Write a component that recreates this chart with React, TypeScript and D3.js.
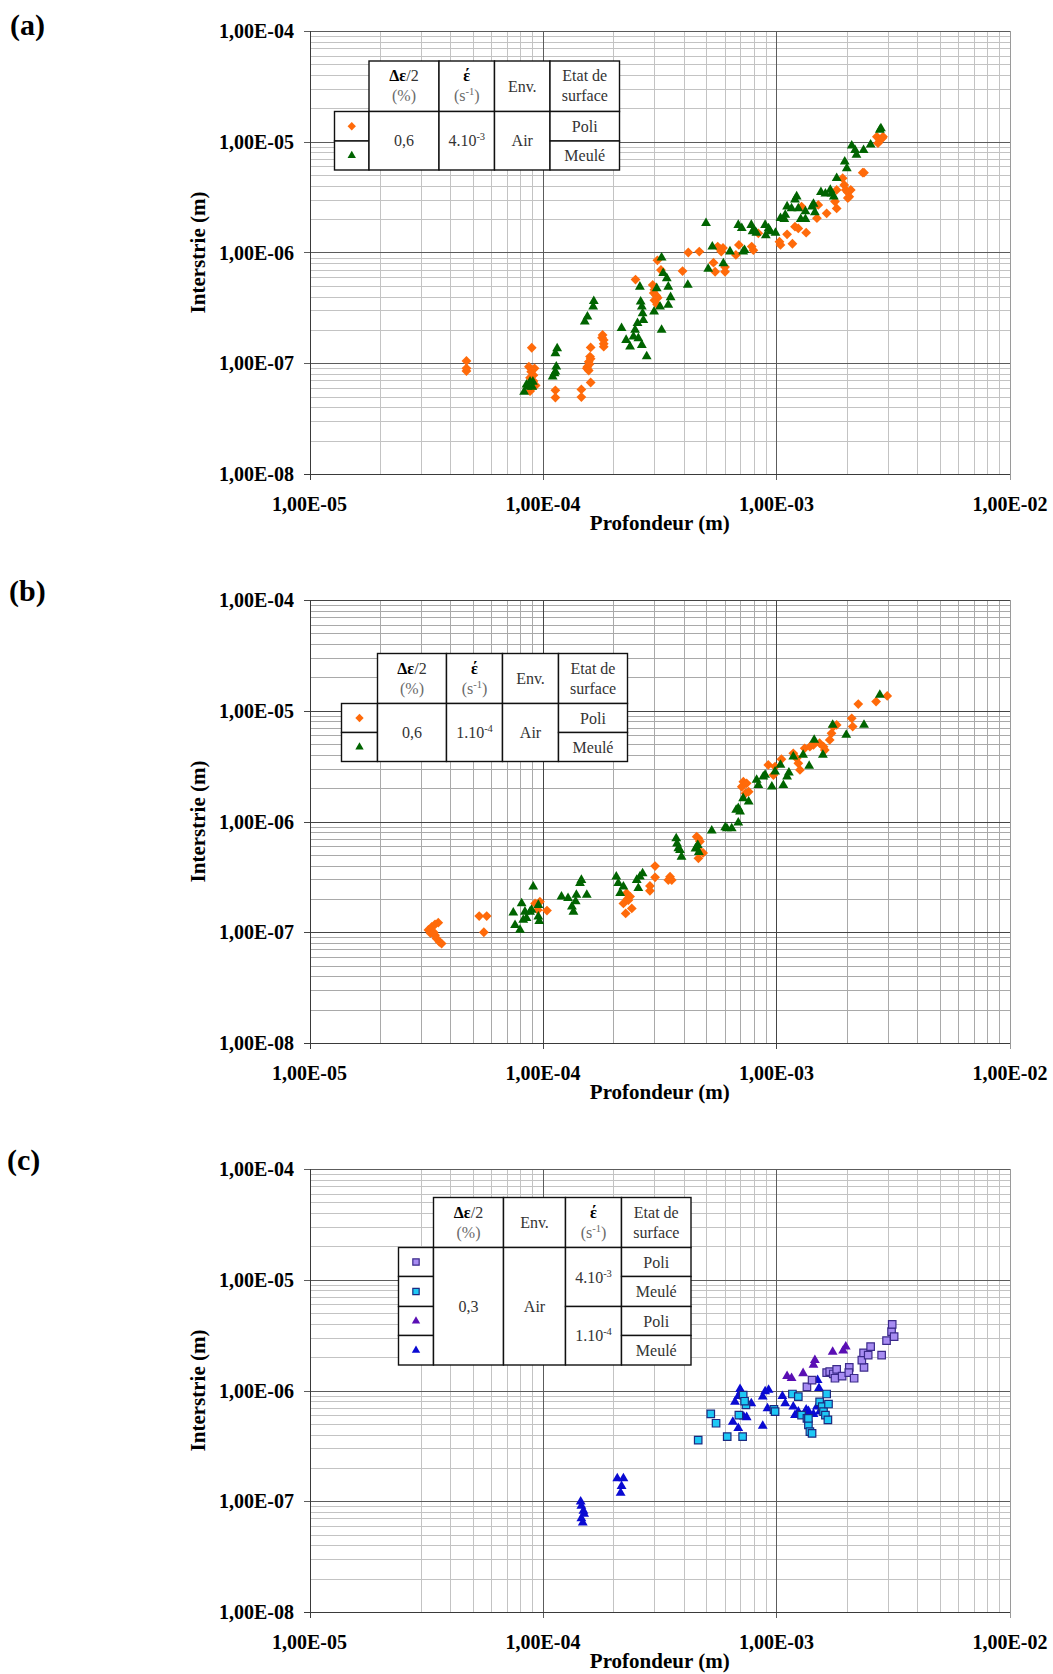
import React from 'react';
import * as d3 from 'd3';

type Pt = [number, number];

// ---------- axis ticks ----------
const xDecades = [1e-5, 1e-4, 1e-3, 1e-2];
const xTickLabels = ['1,00E-05', '1,00E-04', '1,00E-03', '1,00E-02'];
const yDecades = [1e-4, 1e-5, 1e-6, 1e-7, 1e-8];
const yTickLabels = ['1,00E-04', '1,00E-05', '1,00E-06', '1,00E-07', '1,00E-08'];
const xTitle = 'Profondeur (m)';
const yTitle = 'Interstrie (m)';
const panelLabels = ['(a)', '(b)', '(c)'];

// ---------- panel (a) ----------
const aPoli: Pt[] = [
  [4.7e-5, 1.05e-7], [4.7e-5, 9.0e-8], [4.7e-5, 8.5e-8],
  [8.95e-5, 1.38e-7],
  [8.7e-5, 9.3e-8], [8.9e-5, 8.4e-8], [9.1e-5, 7.8e-8], [8.8e-5, 7.4e-8], [9.1e-5, 6.9e-8], [9.3e-5, 6.3e-8], [8.8e-5, 5.6e-8], [9.0e-5, 6.0e-8], [9.2e-5, 9.0e-8],
  [1.13e-4, 5.7e-8], [1.13e-4, 4.9e-8],
  [1.46e-4, 5.8e-8], [1.46e-4, 4.95e-8],
  [1.6e-4, 6.7e-8],
  [1.6e-4, 1.39e-7], [1.59e-4, 1.15e-7], [1.57e-4, 1.03e-7], [1.55e-4, 9.3e-8], [1.57e-4, 8.6e-8], [1.54e-4, 9.0e-8], [1.58e-4, 9.8e-8], [1.6e-4, 1.1e-7],
  [1.8e-4, 1.8e-7], [1.82e-4, 1.62e-7], [1.82e-4, 1.41e-7], [1.79e-4, 1.7e-7], [1.82e-4, 1.5e-7],
  [2.49e-4, 5.7e-7],
  [2.95e-4, 5.1e-7], [3.0e-4, 4.6e-7], [3.05e-4, 4.1e-7], [3.0e-4, 3.7e-7], [3.08e-4, 3.4e-7], [2.98e-4, 4.3e-7], [3.1e-4, 3.9e-7],
  [3.09e-4, 8.5e-7], [3.2e-4, 6.95e-7], [3.96e-4, 6.8e-7],
  [4.19e-4, 1.0e-6], [4.67e-4, 1.02e-6],
  [5.37e-4, 8.1e-7], [5.46e-4, 6.7e-7],
  [5.6e-4, 1.13e-6], [5.75e-4, 1.07e-6], [5.9e-4, 1.1e-6], [5.8e-4, 1.02e-6],
  [6.02e-4, 7.4e-7], [6.02e-4, 6.7e-7],
  [6.7e-4, 9.5e-7], [6.9e-4, 1.17e-6],
  [7.83e-4, 1.13e-6], [7.96e-4, 1.05e-6], [8.36e-4, 1.49e-6],
  [1.03e-3, 1.25e-6], [1.04e-3, 1.17e-6],
  [1.11e-3, 1.46e-6], [1.17e-3, 1.2e-6],
  [1.2e-3, 1.71e-6], [1.24e-3, 1.65e-6], [1.28e-3, 2.6e-6], [1.34e-3, 1.51e-6],
  [1.49e-3, 2.04e-6], [1.51e-3, 2.69e-6], [1.64e-3, 2.26e-6],
  [1.78e-3, 2.88e-6], [1.81e-3, 2.5e-6], [1.81e-3, 3.67e-6],
  [1.92e-3, 4.68e-6], [1.95e-3, 4.07e-6], [1.98e-3, 3.67e-6], [2.02e-3, 3.5e-6], [2.05e-3, 3.19e-6], [2.08e-3, 3.67e-6], [2.02e-3, 3.1e-6],
  [2.34e-3, 5.26e-6], [2.37e-3, 5.26e-6],
  [2.69e-3, 1.11e-5], [2.77e-3, 1.04e-5], [2.86e-3, 1.11e-5], [2.72e-3, 9.7e-6], [2.84e-3, 1.08e-5],
];
const aMeule: Pt[] = [
  [8.3e-5, 5.5e-8], [8.6e-5, 6.1e-8], [9.05e-5, 6.8e-8], [8.8e-5, 6.8e-8], [9.0e-5, 6.1e-8], [8.5e-5, 6.4e-8],
  [1.1e-4, 7.55e-8], [1.12e-4, 8.1e-8], [1.13e-4, 8.4e-8], [1.14e-4, 9.3e-8], [1.13e-4, 1.23e-7], [1.15e-4, 1.36e-7],
  [1.51e-4, 2.37e-7], [1.55e-4, 2.63e-7], [1.64e-4, 3.24e-7], [1.65e-4, 3.64e-7],
  [2.17e-4, 2.07e-7], [2.27e-4, 1.62e-7], [2.36e-4, 1.41e-7], [2.44e-4, 1.74e-7], [2.48e-4, 2.0e-7], [2.54e-4, 2.3e-7], [2.56e-4, 1.68e-7], [2.65e-4, 1.46e-7], [2.69e-4, 2.45e-7], [2.67e-4, 2.82e-7], [2.65e-4, 3.24e-7], [2.62e-4, 3.6e-7], [2.6e-4, 4.9e-7], [2.78e-4, 1.15e-7],
  [3.22e-4, 2.0e-7], [2.99e-4, 2.92e-7], [3.07e-4, 4.75e-7], [3.17e-4, 3.24e-7], [3.44e-4, 3.36e-7], [3.44e-4, 4.9e-7], [3.39e-4, 5.85e-7], [3.27e-4, 6.5e-7], [3.22e-4, 9.0e-7], [3.52e-4, 3.94e-7],
  [4.17e-4, 5.1e-7],
  [4.99e-4, 1.84e-6], [5.1e-4, 7.1e-7], [5.31e-4, 1.13e-6], [5.92e-4, 7.98e-7], [6.32e-4, 1.02e-6],
  [6.86e-4, 1.77e-6], [7.1e-4, 1.66e-6], [7.3e-4, 1.05e-6], [7.2e-4, 1.02e-6],
  [7.8e-4, 1.77e-6], [8.0e-4, 1.6e-6], [8.2e-4, 1.5e-6], [7.9e-4, 1.55e-6],
  [8.94e-4, 1.77e-6], [9.25e-4, 1.65e-6], [9.4e-4, 1.55e-6], [9.0e-4, 1.43e-6], [9.9e-4, 1.5e-6],
  [1.04e-3, 2.04e-6], [1.09e-3, 2.18e-6], [1.11e-3, 2.6e-6], [1.08e-3, 2.0e-6],
  [1.2e-3, 3.0e-6], [1.22e-3, 3.2e-6], [1.16e-3, 2.5e-6], [1.24e-3, 2.5e-6], [1.27e-3, 2.0e-6], [1.33e-3, 2.0e-6], [1.33e-3, 2.35e-6], [1.42e-3, 2.6e-6], [1.44e-3, 2.75e-6], [1.46e-3, 2.3e-6],
  [1.55e-3, 3.5e-6], [1.62e-3, 3.4e-6], [1.7e-3, 3.67e-6], [1.72e-3, 3.4e-6], [1.76e-3, 3.2e-6],
  [1.81e-3, 4.68e-6],
  [1.96e-3, 6.6e-6], [2.0e-3, 5.75e-6],
  [2.1e-3, 9.2e-6], [2.17e-3, 8.4e-6], [2.2e-3, 7.6e-6], [2.36e-3, 8.4e-6], [2.53e-3, 9.4e-6],
  [2.77e-3, 1.28e-5], [2.8e-3, 1.32e-5],
];

// ---------- panel (b) ----------
const bPoli: Pt[] = [
  [3.23e-5, 1.05e-7], [3.34e-5, 1.12e-7], [3.45e-5, 1.18e-7], [3.56e-5, 1.22e-7], [3.3e-5, 9.8e-8], [3.45e-5, 9.4e-8], [3.5e-5, 8.8e-8], [3.6e-5, 8.2e-8], [3.68e-5, 7.9e-8], [3.4e-5, 1.0e-7],
  [5.33e-5, 1.4e-7], [5.74e-5, 1.4e-7], [5.58e-5, 1.0e-7],
  [9.25e-5, 1.82e-7], [9.7e-5, 1.89e-7], [9.5e-5, 1.59e-7], [1.04e-4, 1.57e-7],
  [2.28e-4, 2.25e-7], [2.36e-4, 2.1e-7], [2.21e-4, 1.82e-7], [2.32e-4, 1.95e-7], [2.4e-4, 1.64e-7], [2.26e-4, 1.48e-7], [2.3e-4, 2.0e-7],
  [3.02e-4, 3.96e-7], [3.02e-4, 3.13e-7], [2.87e-4, 2.62e-7], [2.87e-4, 2.37e-7],
  [3.5e-4, 3.17e-7], [3.56e-4, 2.96e-7], [3.44e-4, 2.96e-7],
  [4.63e-4, 7.05e-7], [4.55e-4, 7.3e-7], [4.7e-4, 6.6e-7], [4.85e-4, 5.2e-7], [4.6e-4, 5.7e-7], [4.63e-4, 4.65e-7],
  [7.1e-4, 2.06e-6], [7.21e-4, 2.29e-6], [7.45e-4, 2.21e-6], [7.6e-4, 1.86e-6], [7.37e-4, 1.8e-6],
  [9.22e-4, 3.24e-6], [9.86e-4, 3.13e-6], [9.7e-4, 2.63e-6], [1.05e-3, 3.65e-6],
  [1.18e-3, 4.13e-6], [1.22e-3, 3.72e-6], [1.24e-3, 3.35e-6], [1.26e-3, 2.92e-6],
  [1.32e-3, 4.58e-6], [1.39e-3, 4.74e-6], [1.44e-3, 4.91e-6], [1.53e-3, 5.1e-6], [1.59e-3, 4.74e-6], [1.61e-3, 4.42e-6], [1.69e-3, 5.45e-6], [1.72e-3, 6.25e-6], [1.75e-3, 7.18e-6], [1.81e-3, 7.45e-6],
  [2.1e-3, 8.55e-6], [2.12e-3, 7.2e-6], [2.24e-3, 1.15e-5],
  [2.67e-3, 1.21e-5], [2.98e-3, 1.36e-5],
];
const bMeule: Pt[] = [
  [9.08e-5, 2.58e-7],
  [7.46e-5, 1.5e-7], [7.59e-5, 1.16e-7], [7.97e-5, 1.05e-7], [8.1e-5, 1.82e-7], [8.37e-5, 1.53e-7], [8.23e-5, 1.29e-7], [8.5e-5, 1.34e-7], [8.8e-5, 1.53e-7], [8.93e-5, 1.59e-7], [9.55e-5, 1.38e-7], [9.64e-5, 1.26e-7], [9.55e-5, 1.76e-7],
  [1.2e-4, 2.1e-7], [1.28e-4, 2.03e-7], [1.33e-4, 1.7e-7], [1.35e-4, 1.53e-7], [1.39e-4, 2.17e-7], [1.44e-4, 2.77e-7], [1.46e-4, 2.96e-7], [1.54e-4, 2.17e-7], [1.38e-4, 1.9e-7],
  [2.06e-4, 3.17e-7], [2.1e-4, 2.77e-7], [2.14e-4, 2.25e-7], [2.21e-4, 2.58e-7],
  [2.52e-4, 2.96e-7], [2.56e-4, 2.5e-7], [2.6e-4, 3.17e-7], [2.67e-4, 3.4e-7],
  [3.72e-4, 7.05e-7], [3.8e-4, 5.73e-7], [3.92e-4, 4.8e-7], [3.86e-4, 5.5e-7], [3.75e-4, 6.3e-7],
  [4.5e-4, 5.7e-7], [4.6e-4, 6.1e-7], [4.65e-4, 5.3e-7],
  [5.28e-4, 8.26e-7],
  [6.03e-4, 8.85e-7], [6.13e-4, 8.65e-7], [6.43e-4, 8.65e-7], [6.86e-4, 9.75e-7],
  [6.72e-4, 1.27e-6], [6.86e-4, 1.32e-6], [6.98e-4, 1.23e-6],
  [7.2e-4, 1.62e-6], [7.6e-4, 1.51e-6],
  [8.22e-4, 2.37e-6], [8.36e-4, 2.13e-6], [8.78e-4, 2.54e-6], [8.94e-4, 2.63e-6],
  [9.55e-4, 2.06e-6], [9.86e-4, 2.82e-6], [1.04e-3, 3.24e-6],
  [1.07e-3, 2.13e-6], [1.11e-3, 2.54e-6], [1.13e-3, 2.76e-6],
  [1.18e-3, 3.85e-6], [1.3e-3, 4.0e-6], [1.38e-3, 3.17e-6],
  [1.45e-3, 5.45e-6], [1.58e-3, 4.0e-6],
  [1.74e-3, 7.45e-6],
  [1.99e-3, 6.04e-6], [2.37e-3, 7.45e-6],
  [2.77e-3, 1.39e-5],
];

// ---------- panel (c) ----------
const cPoliFast: Pt[] = [
  [1.35e-3, 1.08e-6], [1.42e-3, 1.24e-6],
  [1.64e-3, 1.45e-6], [1.69e-3, 1.48e-6], [1.75e-3, 1.41e-6], [1.78e-3, 1.29e-6], [1.81e-3, 1.55e-6], [1.91e-3, 1.35e-6], [2.05e-3, 1.62e-6], [2.04e-3, 1.45e-6], [2.15e-3, 1.29e-6],
  [2.37e-3, 1.62e-6], [2.32e-3, 1.88e-6], [2.36e-3, 2.19e-6], [2.47e-3, 2.09e-6], [2.53e-3, 2.49e-6], [2.82e-3, 2.09e-6], [2.96e-3, 2.82e-6], [3.11e-3, 3.4e-6], [3.13e-3, 3.96e-6], [3.19e-3, 3.06e-6],
];
const cMeuleFast: Pt[] = [
  [4.62e-4, 3.57e-7], [5.23e-4, 6.14e-7], [5.51e-4, 5.06e-7], [6.15e-4, 3.83e-7], [7.16e-4, 3.83e-7], [6.9e-4, 6.0e-7], [7.2e-4, 9.1e-7], [7.4e-4, 7.4e-7], [7.3e-4, 8.0e-7],
  [9.75e-4, 6.76e-7], [9.86e-4, 6.44e-7],
  [1.17e-3, 9.3e-7],
  [1.24e-3, 8.8e-7], [1.28e-3, 6.0e-7], [1.35e-3, 5.6e-7], [1.37e-3, 4.9e-7], [1.39e-3, 4.25e-7], [1.42e-3, 4.1e-7], [1.37e-3, 5.6e-7],
  [1.53e-3, 7.9e-7], [1.57e-3, 7.14e-7], [1.59e-3, 6.44e-7], [1.62e-3, 6.0e-7], [1.64e-3, 9.3e-7], [1.67e-3, 7.55e-7], [1.66e-3, 5.42e-7],
];
const cPoliSlow: Pt[] = [
  [1.11e-3, 1.35e-6], [1.16e-3, 1.29e-6], [1.3e-3, 1.43e-6], [1.44e-3, 1.7e-6], [1.46e-3, 1.88e-6], [1.74e-3, 2.23e-6], [1.93e-3, 2.29e-6], [1.98e-3, 2.49e-6],
];
const cMeuleSlow: Pt[] = [
  [1.45e-4, 9.9e-8], [1.46e-4, 9.06e-8], [1.49e-4, 8.2e-8], [1.5e-4, 7.7e-8], [1.46e-4, 7.0e-8], [1.48e-4, 6.4e-8],
  [2.08e-4, 1.61e-7], [2.21e-4, 1.61e-7], [2.17e-4, 1.37e-7], [2.15e-4, 1.19e-7],
  [6.98e-4, 1.03e-6], [6.64e-4, 7.9e-7], [6.5e-4, 5.2e-7], [6.86e-4, 4.56e-7], [7.45e-4, 5.73e-7], [7.8e-4, 7.66e-7], [7.05e-4, 9.8e-7], [6.86e-4, 8.9e-7], [7.24e-4, 5.8e-7],
  [8.73e-4, 8.8e-7], [8.94e-4, 9.8e-7], [9.25e-4, 1.01e-6], [9.15e-4, 6.9e-7], [8.73e-4, 4.78e-7], [9.8e-4, 6.5e-7],
  [1.06e-3, 8.9e-7], [1.09e-3, 7.66e-7], [1.18e-3, 7.14e-7], [1.2e-3, 6.0e-7], [1.24e-3, 6.44e-7], [1.34e-3, 6.7e-7], [1.37e-3, 6.5e-7], [1.44e-3, 6.1e-7], [1.49e-3, 7.14e-7], [1.5e-3, 1.24e-6], [1.52e-3, 1.05e-6], [1.53e-3, 6.44e-7],
];

// ---------- styles ----------
type Kind = 'diamond' | 'triGreen' | 'sqLav' | 'sqCyan' | 'triPurple' | 'triBlue';
const SERIF = "'Liberation Serif', 'DejaVu Serif', serif";

const W = 1053, H = 1674;
const X0 = 309.5, X1 = 1010;
const PH = 443;

function symbolPath(kind: Kind, small = false): string {
  const k = small ? 0.85 : 1;
  if (kind === 'diamond') return d3.symbol(d3.symbolSquare, 48 * k * k)()!;
  if (kind === 'sqLav' || kind === 'sqCyan') return d3.symbol(d3.symbolSquare, 56 * k * k)()!;
  return d3.symbol(d3.symbolTriangle, 42 * k * k)()!;
}
function symStyle(kind: Kind) {
  switch (kind) {
    case 'diamond': return { fill: '#ff6a0a', stroke: 'none', rot: 45 };
    case 'triGreen': return { fill: '#006400', stroke: 'none', rot: 0 };
    case 'sqLav': return { fill: '#a78cf2', stroke: '#3b2a8a', rot: 0 };
    case 'sqCyan': return { fill: '#1ec8f5', stroke: '#1a2a80', rot: 0 };
    case 'triPurple': return { fill: '#5a0fb4', stroke: 'none', rot: 0 };
    case 'triBlue': return { fill: '#0a0ad2', stroke: 'none', rot: 0 };
  }
}
function Sym({ kind, x, y, small }: { kind: Kind; x: number; y: number; small?: boolean }) {
  const s = symStyle(kind);
  return (
    <path
      d={symbolPath(kind, small)}
      transform={`translate(${x},${y}) rotate(${s.rot})`}
      fill={s.fill}
      stroke={s.stroke}
      strokeWidth={1.2}
    />
  );
}

// ---------- table ----------
type Seg = { t: string; b?: boolean; sup?: boolean; c?: string };
type Cell = { c: [number, number]; r: [number, number]; lines?: Seg[][]; sym?: Kind };
type TableDef = { cols: number[]; rows: number[]; cells: Cell[] };

const GRAY = '#6a6a6a';
const TXT = '#333333';
const hDelta: Seg[][] = [[{ t: 'Δε', b: true, c: '#000' }, { t: '/2', c: TXT }], [{ t: '(%)', c: GRAY }]];
const hRate: Seg[][] = [[{ t: 'έ', b: true, c: '#000' }], [{ t: '(s', c: GRAY }, { t: '-1', sup: true, c: GRAY }, { t: ')', c: GRAY }]];
const hEnv: Seg[][] = [[{ t: 'Env.', c: TXT }]];
const hEtat: Seg[][] = [[{ t: 'Etat de', c: TXT }], [{ t: 'surface', c: TXT }]];
const one = (t: string): Seg[][] => [[{ t, c: TXT }]];
const rate = (m: string, e: string): Seg[][] => [[{ t: m, c: TXT }, { t: e, sup: true, c: TXT }]];

const tableA: TableDef = {
  cols: [334.5, 369, 439, 494.5, 550, 619.5],
  rows: [61, 111.5, 141, 170],
  cells: [
    { c: [1, 2], r: [0, 1], lines: hDelta },
    { c: [2, 3], r: [0, 1], lines: hRate },
    { c: [3, 4], r: [0, 1], lines: hEnv },
    { c: [4, 5], r: [0, 1], lines: hEtat },
    { c: [0, 1], r: [1, 2], sym: 'diamond' },
    { c: [0, 1], r: [2, 3], sym: 'triGreen' },
    { c: [1, 2], r: [1, 3], lines: one('0,6') },
    { c: [2, 3], r: [1, 3], lines: rate('4.10', '-3') },
    { c: [3, 4], r: [1, 3], lines: one('Air') },
    { c: [4, 5], r: [1, 2], lines: one('Poli') },
    { c: [4, 5], r: [2, 3], lines: one('Meulé') },
  ],
};
const tableB: TableDef = {
  cols: [341.5, 377.5, 446.5, 502.5, 558.5, 627.5],
  rows: [653.5, 703.5, 732.5, 761.5],
  cells: [
    { c: [1, 2], r: [0, 1], lines: hDelta },
    { c: [2, 3], r: [0, 1], lines: hRate },
    { c: [3, 4], r: [0, 1], lines: hEnv },
    { c: [4, 5], r: [0, 1], lines: hEtat },
    { c: [0, 1], r: [1, 2], sym: 'diamond' },
    { c: [0, 1], r: [2, 3], sym: 'triGreen' },
    { c: [1, 2], r: [1, 3], lines: one('0,6') },
    { c: [2, 3], r: [1, 3], lines: rate('1.10', '-4') },
    { c: [3, 4], r: [1, 3], lines: one('Air') },
    { c: [4, 5], r: [1, 2], lines: one('Poli') },
    { c: [4, 5], r: [2, 3], lines: one('Meulé') },
  ],
};
const tableC: TableDef = {
  cols: [398.5, 433.5, 503.5, 565.5, 621.5, 691],
  rows: [1197.5, 1247.5, 1276.5, 1306.5, 1335.5, 1365],
  cells: [
    { c: [1, 2], r: [0, 1], lines: hDelta },
    { c: [2, 3], r: [0, 1], lines: hEnv },
    { c: [3, 4], r: [0, 1], lines: hRate },
    { c: [4, 5], r: [0, 1], lines: hEtat },
    { c: [0, 1], r: [1, 2], sym: 'sqLav' },
    { c: [0, 1], r: [2, 3], sym: 'sqCyan' },
    { c: [0, 1], r: [3, 4], sym: 'triPurple' },
    { c: [0, 1], r: [4, 5], sym: 'triBlue' },
    { c: [1, 2], r: [1, 5], lines: one('0,3') },
    { c: [2, 3], r: [1, 5], lines: one('Air') },
    { c: [3, 4], r: [1, 3], lines: rate('4.10', '-3') },
    { c: [3, 4], r: [3, 5], lines: rate('1.10', '-4') },
    { c: [4, 5], r: [1, 2], lines: one('Poli') },
    { c: [4, 5], r: [2, 3], lines: one('Meulé') },
    { c: [4, 5], r: [3, 4], lines: one('Poli') },
    { c: [4, 5], r: [4, 5], lines: one('Meulé') },
  ],
};

function RichText({ x, y, segs }: { x: number; y: number; segs: Seg[] }) {
  let prevSup = false;
  return (
    <text x={x} y={y} textAnchor="middle" fontFamily={SERIF} fontSize={16}>
      {segs.map((s, i) => {
        const dy = s.sup ? -6 : prevSup ? 6 : 0;
        prevSup = !!s.sup;
        return (
          <tspan key={i} dy={dy || undefined} fontWeight={s.b ? 'bold' : 'normal'} fill={s.c ?? TXT} fontSize={s.sup ? 10.5 : 16}>
            {s.t}
          </tspan>
        );
      })}
    </text>
  );
}

function Table({ def }: { def: TableDef }) {
  return (
    <g>
      {def.cells.map((cell, i) => {
        const x0 = def.cols[cell.c[0]], x1 = def.cols[cell.c[1]];
        const y0 = def.rows[cell.r[0]], y1 = def.rows[cell.r[1]];
        const cx = (x0 + x1) / 2, cy = (y0 + y1) / 2;
        return (
          <g key={i}>
            <rect x={x0} y={y0} width={x1 - x0} height={y1 - y0} fill="#fff" stroke="#111" strokeWidth={1.4} />
            {cell.sym && <Sym kind={cell.sym} x={cx} y={cy} small />}
            {cell.lines && cell.lines.length === 1 && <RichText x={cx} y={cy + 5.5} segs={cell.lines[0]} />}
            {cell.lines && cell.lines.length === 2 && (
              <>
                <RichText x={cx} y={cy - 5} segs={cell.lines[0]} />
                <RichText x={cx} y={cy + 15} segs={cell.lines[1]} />
              </>
            )}
          </g>
        );
      })}
    </g>
  );
}

// ---------- panel ----------
type Series = { data: Pt[]; kind: Kind };
type PanelDef = {
  top: number; label: string; labelX: number; labelY: number;
  series: Series[]; table: TableDef; skipMinor: number[]; dark: boolean;
};

const panels: PanelDef[] = [
  { top: 31, label: panelLabels[0], labelX: 10, labelY: 35, table: tableA, skipMinor: [], dark: false,
    series: [{ data: aPoli, kind: 'diamond' }, { data: aMeule, kind: 'triGreen' }] },
  { top: 600, label: panelLabels[1], labelX: 9, labelY: 601, table: tableB, skipMinor: [], dark: true,
    series: [{ data: bPoli, kind: 'diamond' }, { data: bMeule, kind: 'triGreen' }] },
  { top: 1169, label: panelLabels[2], labelX: 7, labelY: 1170, table: tableC, skipMinor: [2e-5], dark: false,
    series: [
      { data: cMeuleSlow, kind: 'triBlue' }, { data: cPoliSlow, kind: 'triPurple' },
      { data: cMeuleFast, kind: 'sqCyan' }, { data: cPoliFast, kind: 'sqLav' },
    ] },
];

const px = (v: number) => Math.round(v) + 0.5;

function Panel({ p }: { p: PanelDef }) {
  const x = d3.scaleLog().domain([1e-5, 1e-2]).range([X0, X1]);
  const y = d3.scaleLog().domain([1e-8, 1e-4]).range([p.top + PH, p.top]);
  const bottom = p.top + PH;
  const minorCol = p.dark ? '#a9a9a9' : '#c3c3c3';
  const majorCol = p.dark ? '#454545' : '#5c5c5c';

  const minorX: number[] = [];
  [1e-5, 1e-4, 1e-3].forEach((d) => {
    for (let k = 2; k <= 9; k++) {
      const v = k * d;
      if (!p.skipMinor.some((s) => Math.abs(s - v) / s < 1e-6)) minorX.push(v);
    }
  });
  const minorY: number[] = [];
  [1e-8, 1e-7, 1e-6, 1e-5].forEach((d) => {
    for (let k = 2; k <= 9; k++) minorY.push(k * d);
  });

  return (
    <g>
      <text x={p.labelX} y={p.labelY} fontFamily={SERIF} fontWeight="bold" fontSize={30} fill="#000">{p.label}</text>
      <g shapeRendering="crispEdges">
        {minorX.map((v, i) => (
          <line key={'mx' + i} x1={px(x(v))} x2={px(x(v))} y1={p.top} y2={bottom} stroke={minorCol} strokeWidth={1} />
        ))}
        {minorY.map((v, i) => (
          <line key={'my' + i} x1={X0} x2={X1} y1={px(y(v))} y2={px(y(v))} stroke={minorCol} strokeWidth={1} />
        ))}
        {xDecades.slice(1, 3).map((v, i) => (
          <line key={'Mx' + i} x1={px(x(v))} x2={px(x(v))} y1={p.top} y2={bottom + 6} stroke={majorCol} strokeWidth={1} />
        ))}
        <line x1={px(X1)} x2={px(X1)} y1={p.top} y2={bottom + 6} stroke="#9a9a9a" strokeWidth={1} />
        {yDecades.slice(0, 4).map((v, i) => (
          <line key={'My' + i} x1={X0 - 6} x2={X1} y1={px(y(v))} y2={px(y(v))} stroke={majorCol} strokeWidth={1} />
        ))}
        <line x1={X0 - 6} x2={X1} y1={px(bottom)} y2={px(bottom)} stroke="#3a3a3a" strokeWidth={1.5} />
        <line x1={px(X0)} x2={px(X0)} y1={p.top} y2={bottom + 6} stroke="#3a3a3a" strokeWidth={1.5} />
      </g>
      {yDecades.map((v, i) => (
        <text key={'yl' + i} x={294} y={y(v) + 7} textAnchor="end" fontFamily={SERIF} fontWeight="bold" fontSize={20} fill="#000">{yTickLabels[i]}</text>
      ))}
      {xDecades.map((v, i) => (
        <text key={'xl' + i} x={x(v)} y={bottom + 37} textAnchor="middle" fontFamily={SERIF} fontWeight="bold" fontSize={20} fill="#000">{xTickLabels[i]}</text>
      ))}
      <text x={(X0 + X1) / 2} y={bottom + 56} textAnchor="middle" fontFamily={SERIF} fontWeight="bold" fontSize={21} fill="#000">{xTitle}</text>
      <text transform={`translate(205,${(p.top + bottom) / 2}) rotate(-90)`} textAnchor="middle" fontFamily={SERIF} fontWeight="bold" fontSize={21} fill="#000">{yTitle}</text>
      {p.series.map((s, si) => (
        <g key={'s' + si}>
          {s.data.map((d, i) => (
            <Sym key={i} kind={s.kind} x={x(d[0])} y={y(d[1])} />
          ))}
        </g>
      ))}
      <Table def={p.table} />
    </g>
  );
}

export default function App() {
  return (
    <svg width={W} height={H} viewBox={`0 0 ${W} ${H}`} style={{ position: 'absolute', left: 0, top: 0, background: '#fff' }}>
      <rect x={0} y={0} width={W} height={H} fill="#fff" />
      {panels.map((p, i) => (
        <Panel key={i} p={p} />
      ))}
    </svg>
  );
}
